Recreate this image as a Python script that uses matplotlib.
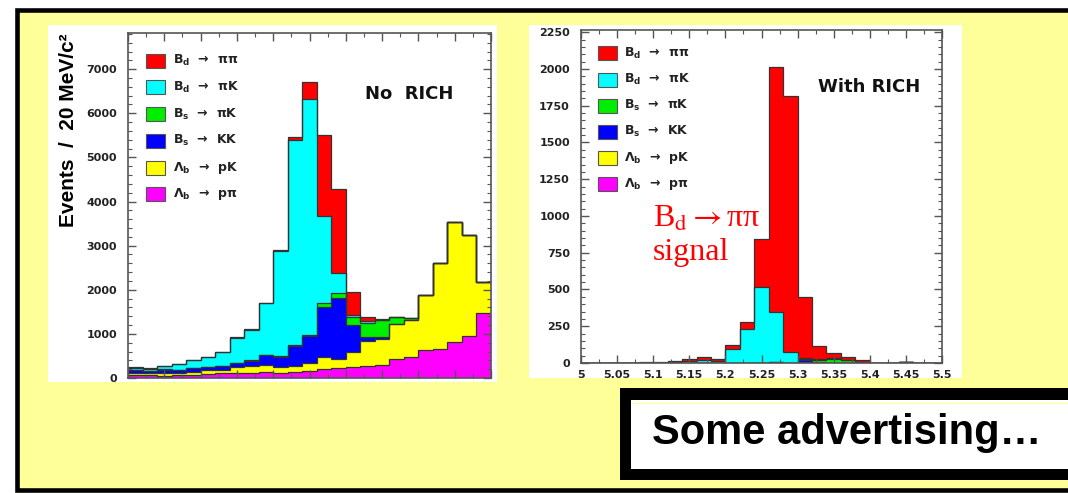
import numpy as np
import matplotlib.pyplot as plt
from matplotlib.patches import Rectangle
from matplotlib.lines import Line2D
from matplotlib.ticker import MultipleLocator

W, H = 1068, 493
YELLOW = '#FFFF99'

# 25 bins of 20 MeV/c^2 between 5.0 and 5.5 GeV/c^2
edges = np.linspace(5.0, 5.5, 26)

# No RICH: events per bin for each decay channel
norich_lb_ppi = [68, 60, 45, 68, 68, 90, 106, 121, 121, 144, 106, 144, 166, 200, 220,
                 250, 280, 300, 420, 480, 640, 660, 820, 960, 1480]
norich_lb_pk = [53, 50, 61, 53, 76, 91, 75, 121, 151, 151, 151, 128, 184, 280, 220,
                350, 560, 580, 800, 840, 1236, 1940, 2720, 2290, 700]
norich_bs_kk = [60, 50, 84, 60, 75, 61, 91, 91, 121, 227, 227, 454, 600, 1137, 1366,
                600, 80, 40, 5, 5, 0, 0, 0, 0, 0]
norich_bs_pik = [9, 10, 5, 9, 6, 8, 8, 7, 7, 8, 11, 14, 15, 76, 114,
                 175, 330, 400, 150, 35, 0, 0, 0, 0, 0]
norich_bd_pik = [45, 45, 77, 120, 175, 230, 310, 575, 695, 1170, 2385, 4650, 5355, 1969, 469,
                 55, 40, 2, 3, 2, 0, 0, 0, 0, 0]
norich_bd_pipi = [5, 5, 6, 5, 8, 5, 7, 7, 9, 9, 20, 80, 387, 1839, 1899,
                  520, 90, 8, 7, 3, 0, 0, 0, 0, 0]

# With RICH
rich_lb_ppi = [0, 0, 0, 0, 0, 0, 0, 0, 0, 0, 0, 0, 0, 0, 0,
               0, 0, 0, 0, 0, 0, 0, 5, 0, 0]
rich_lb_pk = [0] * 25
rich_bs_kk = [0, 0, 0, 0, 0, 0, 0, 0, 0, 0, 0, 0, 0, 5, 3,
              20, 5, 0, 0, 0, 0, 0, 0, 0, 0]
rich_bs_pik = [0, 0, 0, 0, 0, 0, 0, 0, 0, 0, 0, 0, 0, 0, 0,
               5, 15, 30, 22, 5, 0, 0, 0, 0, 0]
rich_bd_pik = [0, 0, 0, 1, 1, 2, 8, 15, 23, 14, 93, 233, 517, 342, 72,
               10, 4, 2, 0, 0, 0, 0, 0, 0, 0]
rich_bd_pipi = [0, 0, 1, 2, 3, 3, 6, 15, 17, 11, 32, 45, 328, 1663, 1738,
                414, 89, 36, 19, 13, 3, 1, 2, 1, 1]

# stacking order bottom -> top
colors = ['#FF00FF', '#FFFF00', '#0000FF', '#00EE00', '#00FFFF', '#FF0000']
labels = ['Λ$_\\mathbf{b}$  →  pπ', 'Λ$_\\mathbf{b}$  →  pK', 'B$_\\mathbf{s}$  →  KK',
          'B$_\\mathbf{s}$  →  πK', 'B$_\\mathbf{d}$  →  πK', 'B$_\\mathbf{d}$  →  ππ']
x_ticklabels = ['5', '5.05', '5.1', '5.15', '5.2', '5.25', '5.3', '5.35', '5.4', '5.45', '5.5']

fig = plt.figure(figsize=(W / 100, H / 100), dpi=100)
fig.patch.set_facecolor('white')


def rect(x0, y0, x1, y1, **kw):
    r = Rectangle((x0 / W, 1 - y1 / H), (x1 - x0) / W, (y1 - y0) / H,
                  transform=fig.transFigure, **kw)
    fig.add_artist(r)
    return r


# slide background and the two pasted pictures
rect(17, 9.5, 1100, 489.5, facecolor=YELLOW, edgecolor='black', lw=3.3, zorder=-3)
rect(48, 25, 497, 382, facecolor='white', edgecolor='none', zorder=-2)
rect(529, 25, 962, 377.5, facecolor='white', edgecolor='none', zorder=-2)


def draw_stack(ax, comps):
    base = np.zeros(len(edges) - 1)
    tops = []
    for vals, col in zip(comps, colors):
        top = base + np.array(vals, dtype=float)
        ax.stairs(top, edges, baseline=base, fill=True, color=col, lw=0)
        tops.append(top)
        base = top
    for top in tops:
        ax.stairs(top, edges, baseline=None, color='#333333', lw=0.9)


def style_axes(ax, ymax, ymaj, ymin):
    ax.set_xlim(5.0, 5.5)
    ax.set_ylim(0, ymax)
    ax.xaxis.set_major_locator(MultipleLocator(0.05))
    ax.xaxis.set_minor_locator(MultipleLocator(0.025))
    ax.yaxis.set_major_locator(MultipleLocator(ymaj))
    ax.yaxis.set_minor_locator(MultipleLocator(ymin))
    ax.tick_params(which='both', direction='in', top=True, right=True, colors='#555555')
    ax.tick_params(which='major', length=6, width=1)
    ax.tick_params(which='minor', length=3, width=0.8)
    ax.tick_params(axis='y', labelsize=8, labelcolor='#222222', pad=8)
    for s in ax.spines.values():
        s.set_color('#555555')
        s.set_linewidth(1.2)
    for t in ax.get_yticklabels():
        t.set_fontweight('bold')


def legend(x_box, y0, dy, text_x):
    order = list(range(5, -1, -1))
    for k, i in enumerate(order):
        yc = y0 + k * dy
        rect(x_box, yc - 7, x_box + 19, yc + 7, facecolor=colors[i],
             edgecolor='#555555', lw=0.8, zorder=3)
        fig.text(text_x / W, 1 - yc / H, labels[i], fontsize=9, fontweight='bold',
                 color='#222222', ha='left', va='center', math_fontfamily='dejavusans',
                 zorder=3)


# left: no RICH
axL = fig.add_axes([128 / W, 1 - 378 / H, 363 / W, 345 / H])
draw_stack(axL, [norich_lb_ppi, norich_lb_pk, norich_bs_kk, norich_bs_pik,
                 norich_bd_pik, norich_bd_pipi])
style_axes(axL, 7820, 1000, 200)
axL.tick_params(labelbottom=False)
fig.text(68 / W, 1 - 130 / H, 'Events  /  20 MeV/c²', rotation=90, ha='center',
         va='center', fontsize=15, fontweight='bold', family='Liberation Sans')
fig.text(409 / W, 1 - 94 / H, 'No  RICH', ha='center', va='center', fontsize=13,
         fontweight='bold', color='#111111')
legend(146, 60.7, 26.7, 173)

# right: with RICH
axR = fig.add_axes([581 / W, 1 - 363 / H, 361 / W, 333 / H])
draw_stack(axR, [rich_lb_ppi, rich_lb_pk, rich_bs_kk, rich_bs_pik,
                 rich_bd_pik, rich_bd_pipi])
style_axes(axR, 2265, 250, 50)
axR.set_xticks(np.linspace(5.0, 5.5, 11))
axR.set_xticklabels(x_ticklabels)
axR.tick_params(axis='x', labelsize=8, labelcolor='#222222', pad=5)
for t in axR.get_xticklabels():
    t.set_fontweight('bold')
fig.text(869 / W, 1 - 87 / H, 'With RICH', ha='center', va='center', fontsize=13,
         fontweight='bold', color='#111111')
legend(598, 53.3, 26.2, 624)
fig.text(653 / W, 1 - 227 / H, 'B$_\\mathrm{d}$$\\rightarrow$ππ', ha='left', va='baseline',
         fontsize=23, color='#FF0000', family='Liberation Serif', math_fontfamily='stix')
fig.text(653 / W, 1 - 260 / H, 'signal', ha='left', va='baseline',
         fontsize=23, color='#FF0000', family='Liberation Serif')

# yellow slide shows below the cropped pictures
rect(19.5, 382, 1100, 487, facecolor=YELLOW, edgecolor='none', zorder=2)
rect(500, 377.5, 1100, 382.5, facecolor=YELLOW, edgecolor='none', zorder=2)

# advertising box
rect(620, 388, 1100, 480, facecolor='black', edgecolor='none', zorder=4)
rect(631, 400, 1100, 469, facecolor='white', edgecolor='none', zorder=5)
fig.add_artist(Line2D([631 / W, 1], [1 - 403 / H] * 2, transform=fig.transFigure,
                      color=YELLOW, lw=0.8, zorder=5))
fig.text(652 / W, 1 - 444 / H, 'Some advertising…', ha='left', va='baseline',
         fontsize=30, fontweight='bold', family='Liberation Sans', zorder=6)

fig.savefig('out.png', dpi=100)
